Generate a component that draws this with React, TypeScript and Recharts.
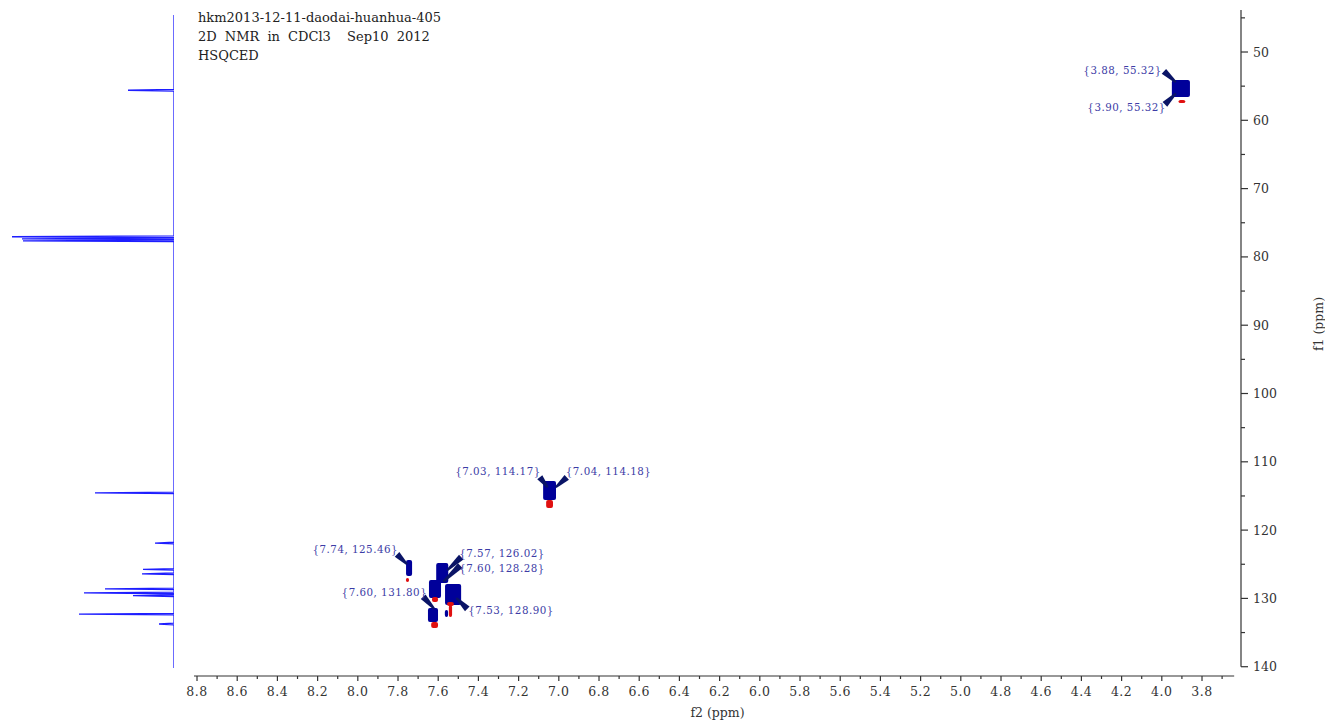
import { ReferenceArea, ReferenceLine, Scatter, ScatterChart, XAxis, YAxis } from "recharts";

// ---- axes ----
const F2_DOMAIN: [number, number] = [3.606, 8.815];
const F1_DOMAIN: [number, number] = [43.85, 141.36];
const f2Major = [8.8, 8.6, 8.4, 8.2, 8.0, 7.8, 7.6, 7.4, 7.2, 7.0, 6.8, 6.6, 6.4, 6.2, 6.0, 5.8, 5.6, 5.4, 5.2, 5.0, 4.8, 4.6, 4.4, 4.2, 4.0, 3.8];
const f2Minor = [8.7, 8.5, 8.3, 8.1, 7.9, 7.7, 7.5, 7.3, 7.1, 6.9, 6.7, 6.5, 6.3, 6.1, 5.9, 5.7, 5.5, 5.3, 5.1, 4.9, 4.7, 4.5, 4.3, 4.1, 3.9, 3.7];
const f1Major = [50, 60, 70, 80, 90, 100, 110, 120, 130, 140];
const f1Minor = [45, 55, 65, 75, 85, 95, 105, 115, 125, 135];

const titleLines = ["hkm2013-12-11-daodai-huanhua-405", "2D NMR in CDCl3  Sep10 2012", "HSQCED"];

// ---- 13C projection (ppm, height) ----
const projPpm = [55.6, 77.05, 77.35, 77.65, 114.55, 121.9, 125.75, 126.4, 128.6, 129.2, 129.6, 132.3, 133.75];
const projHeight = [46, 162, 152, 151, 79, 19, 31, 32, 69, 90, 41, 95, 15];
const PROJ_START = 44.6;
const PROJ_END = 140.2;

// ---- positive contours (f2, f1, half-extent f2, half-extent f1) ----
const blueF2 = [3.905, 7.046, 7.745, 7.58, 7.616, 7.526, 7.626, 7.559];
const blueF1 = [55.34, 114.2, 125.55, 126.28, 128.62, 129.43, 132.43, 132.21];
const blueF2Half = [0.045, 0.032, 0.015, 0.03, 0.03, 0.04, 0.025, 0.008];
const blueF1Half = [1.24, 1.39, 1.17, 1.46, 1.32, 1.54, 1.02, 0.51];

// ---- negative contours ----
const redF2 = [3.9, 7.046, 7.753, 7.616, 7.539, 7.539, 7.618];
const redF1 = [57.25, 116.18, 127.31, 130.16, 130.82, 131.84, 133.9];
const redF2Half = [0.017, 0.017, 0.008, 0.015, 0.017, 0.008, 0.017];
const redF1Half = [0.22, 0.59, 0.3, 0.37, 0.3, 0.88, 0.44];

// ---- peak annotations ----
const annF2 = [3.88, 3.9, 7.03, 7.04, 7.74, 7.57, 7.6, 7.6, 7.53];
const annF1 = [55.32, 55.32, 114.17, 114.18, 125.46, 126.02, 128.28, 131.8, 128.9];

// label / leader placement relative to the peak (px)
const annLayout = [
  { tx: -24, ty: -14, anchor: "end", a0: [-22, -17], a1: [-10, -6] },
  { tx: -16, ty: 23, anchor: "end", a0: [-17, 16], a1: [-6, 5] },
  { tx: -12, ty: -15, anchor: "end", a0: [-13, -13], a1: [-5, -3] },
  { tx: 15, ty: -15, anchor: "start", a0: [16, -13], a1: [5, -3] },
  { tx: -12, ty: -14, anchor: "end", a0: [-13, -13], a1: [-3, -3] },
  { tx: 15, ty: -14, anchor: "start", a0: [17, -14], a1: [3, -1] },
  { tx: 21, ty: -15, anchor: "start", a0: [22, -21], a1: [5, -5] },
  { tx: -11, ty: -15, anchor: "end", a0: [-15, -14], a1: [-4, -2] },
  { tx: 16, ty: 23, anchor: "start", a0: [15, 18], a1: [4, 7] },
];

const AXIS = "#333";
const SERIF = "'DejaVu Serif', 'Liberation Serif', serif";
const BLUE = "#00009a";
const ARROW = "#0a1466";
const RED = "#e01010";

const projData = (() => {
  const pts = [{ ppm: PROJ_START, h: 0 }];
  projPpm.forEach((p, i) => {
    pts.push({ ppm: p - 0.12, h: 0 }, { ppm: p, h: projHeight[i] }, { ppm: p + 0.12, h: 0 });
  });
  pts.push({ ppm: PROJ_END, h: 0 });
  return pts;
})();

const annData = annF2.map((f2, i) => ({ f2, f1: annF1[i], i }));

function wedge(x0: number, y0: number, x1: number, y1: number, w0: number, w1: number) {
  const dx = x1 - x0;
  const dy = y1 - y0;
  const len = Math.hypot(dx, dy) || 1;
  const nx = -dy / len;
  const ny = dx / len;
  return [
    [x0 + (nx * w0) / 2, y0 + (ny * w0) / 2],
    [x1 + (nx * w1) / 2, y1 + (ny * w1) / 2],
    [x1 - (nx * w1) / 2, y1 - (ny * w1) / 2],
    [x0 - (nx * w0) / 2, y0 - (ny * w0) / 2],
  ]
    .map((p) => p.join(","))
    .join(" ");
}

function AnnotationShape(props: any) {
  const { cx, cy, payload } = props;
  const l = annLayout[payload.i];
  const text = `{${payload.f2.toFixed(2)}, ${payload.f1.toFixed(2)}}`;
  return (
    <g>
      <polygon points={wedge(cx + l.a0[0], cy + l.a0[1], cx + l.a1[0], cy + l.a1[1], 6.5, 2)} fill={ARROW} />
      <text
        x={cx + l.tx}
        y={cy + l.ty}
        textAnchor={l.anchor}
        fontFamily={SERIF}
        fontSize={10.3}
        letterSpacing={0.5}
        fill="#3c3ca6"
      >
        {text}
      </text>
    </g>
  );
}

function F2Tick({ x, y, payload }: any) {
  const v = payload.value;
  const major = f2Major.includes(v);
  return (
    <g>
      <line x1={x} y1={y} x2={x} y2={y + (major ? 5 : 3)} stroke={AXIS} strokeWidth={1.2} />
      {major && (
        <text x={x} y={y + 20} textAnchor="middle" fontFamily={SERIF} fontSize={12.5} letterSpacing={0.5} fill={AXIS}>
          {v.toFixed(1)}
        </text>
      )}
    </g>
  );
}

function F1Tick({ x, y, payload }: any) {
  const v = payload.value;
  const major = f1Major.includes(v);
  return (
    <g>
      <line x1={x} y1={y} x2={x + (major ? 7 : 4)} y2={y} stroke={AXIS} strokeWidth={1.2} />
      {major && (
        <text x={x + 12} y={y + 4.5} textAnchor="start" fontFamily={SERIF} fontSize={12.5} fill={AXIS}>
          {v}
        </text>
      )}
    </g>
  );
}

function F1Label({ viewBox }: any) {
  const cx = viewBox.x + viewBox.width - 7;
  const cy = viewBox.y + viewBox.height / 2 - 19;
  return (
    <text
      x={cx}
      y={cy}
      transform={`rotate(-90 ${cx} ${cy})`}
      textAnchor="middle"
      dominantBaseline="central"
      fontFamily={SERIF}
      fontSize={12.5}
      fill={AXIS}
    >
      f1 (ppm)
    </text>
  );
}

const contourShape = (color: string) => (p: any) =>
  <rect x={p.x} y={p.y} width={p.width} height={p.height} rx={2} fill={color} />;

export default function App() {
  return (
    <div style={{ position: "absolute", left: 0, top: 0, width: 1325, height: 720, background: "#fff" }}>
      <div style={{ position: "absolute", left: 0, top: 0 }}>
        <ScatterChart width={200} height={720} margin={{ top: 10, right: 26, bottom: 44, left: 5 }}>
          <XAxis type="number" dataKey="h" domain={[0, 169]} reversed hide allowDataOverflow />
          <YAxis type="number" dataKey="ppm" domain={F1_DOMAIN} reversed hide allowDataOverflow />
          <Scatter
            data={projData}
            line={{ stroke: "#1e1eff", strokeWidth: 1.3 }}
            lineJointType="linear"
            shape={() => <g />}
            isAnimationActive={false}
          />
        </ScatterChart>
      </div>

      <div style={{ position: "absolute", left: 0, top: 0 }}>
        <ScatterChart width={1325} height={720} margin={{ top: 10, right: 0, bottom: 0, left: 194 }}>
          <XAxis
            type="number"
            dataKey="f2"
            domain={F2_DOMAIN}
            reversed
            allowDataOverflow
            ticks={[...f2Major, ...f2Minor]}
            interval={0}
            tick={<F2Tick />}
            tickLine={false}
            axisLine={false}
            tickSize={0}
            tickMargin={0}
            height={44}
            label={{ value: "f2 (ppm)", position: "insideBottom", offset: 3, fill: AXIS, fontSize: 12.5, fontFamily: SERIF }}
          />
          <YAxis
            type="number"
            dataKey="f1"
            orientation="right"
            domain={F1_DOMAIN}
            reversed
            allowDataOverflow
            ticks={[...f1Major, ...f1Minor]}
            interval={0}
            tick={<F1Tick />}
            tickLine={false}
            axisLine={false}
            tickSize={0}
            tickMargin={0}
            width={84}
            label={<F1Label />}
          />
          <ReferenceLine
            segment={[{ x: 8.815, y: F1_DOMAIN[1] }, { x: 3.64, y: F1_DOMAIN[1] }]}
            stroke={AXIS}
            strokeWidth={1.2}
            ifOverflow="visible"
          />
          <ReferenceLine
            segment={[{ x: F2_DOMAIN[0], y: F1_DOMAIN[0] }, { x: F2_DOMAIN[0], y: 140 }]}
            stroke={AXIS}
            strokeWidth={1.2}
            ifOverflow="visible"
          />
          {blueF2.map((f2, i) => (
            <ReferenceArea
              key={`b${i}`}
              x1={f2 + blueF2Half[i]}
              x2={f2 - blueF2Half[i]}
              y1={blueF1[i] - blueF1Half[i]}
              y2={blueF1[i] + blueF1Half[i]}
              ifOverflow="visible"
              shape={contourShape(BLUE)}
            />
          ))}
          {redF2.map((f2, i) => (
            <ReferenceArea
              key={`r${i}`}
              x1={f2 + redF2Half[i]}
              x2={f2 - redF2Half[i]}
              y1={redF1[i] - redF1Half[i]}
              y2={redF1[i] + redF1Half[i]}
              ifOverflow="visible"
              shape={contourShape(RED)}
            />
          ))}
          <Scatter data={annData} shape={<AnnotationShape />} isAnimationActive={false} />
        </ScatterChart>
      </div>

      <div
        style={{
          position: "absolute",
          left: 198,
          top: 8,
          fontFamily: SERIF,
          fontSize: 13,
          lineHeight: "19px",
          color: "#222",
          whiteSpace: "pre",
          wordSpacing: 4,
        }}
      >
        {titleLines.map((t) => (
          <div key={t}>{t}</div>
        ))}
      </div>
    </div>
  );
}
